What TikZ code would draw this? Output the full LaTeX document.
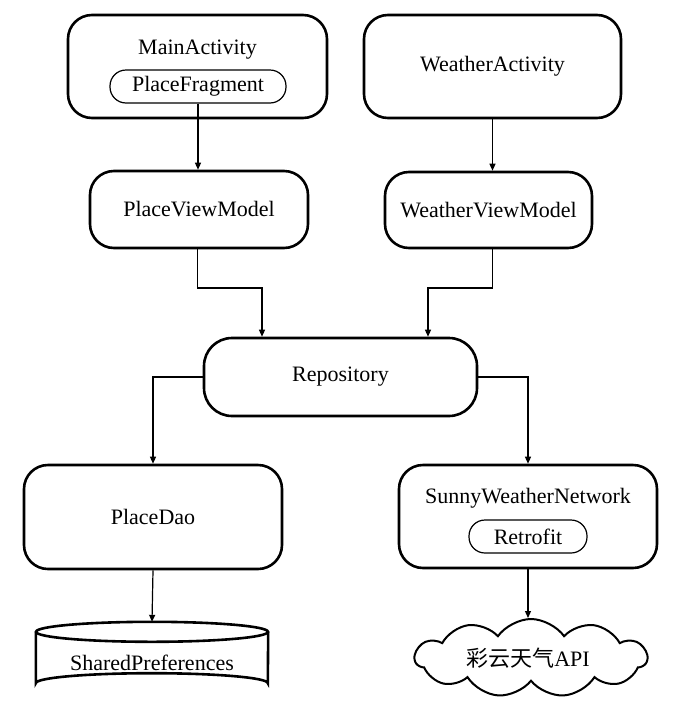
\documentclass[tikz,border=0pt]{standalone}
\usepackage{fontspec}
\setmainfont{Liberation Serif}
\newfontfamily\cjk{Noto Sans CJK SC}
\usetikzlibrary{arrows.meta,shapes.symbols,calc}
\begin{document}
\begin{tikzpicture}[x=1pt,y=-1pt,
  font=\fontsize{22}{26}\selectfont,
  obox/.style={draw, line width=2.6pt, rounded corners=24pt, inner sep=0pt},
  pill/.style={draw, line width=1.2pt, rounded corners=16pt, inner sep=0pt, minimum height=33pt},
  txt/.style={inner sep=0pt},
  conn/.style={line width=1.2pt, -{Triangle[length=7pt,width=6pt]}},
  ghost/.style={inner sep=0pt}
]
\useasboundingbox (0,0) rectangle (686,710);

% top row
\node[obox, minimum width=259pt, minimum height=103pt] (ma) at (197.5,66.5) {};
\node[txt] (matext) at (197.5,50) {MainActivity};
\node[pill, minimum width=176pt] (pf) at (198,86.5) {PlaceFragment};

\node[obox, minimum width=257pt, minimum height=103pt] (wa) at (492.5,66.5) {WeatherActivity};

% view models
\node[obox, minimum width=218pt, minimum height=77pt] (pvm) at (199,209.5) {PlaceViewModel};
\node[obox, minimum width=207pt, minimum height=76pt] (wvm) at (488.5,210) {WeatherViewModel};

% repository
\node[obox, minimum width=273pt, minimum height=78pt, rounded corners=28pt] (repo) at (340.5,377) {Repository};

% data layer
\node[obox, minimum width=258pt, minimum height=104pt] (pd) at (153,517) {PlaceDao};
\node[obox, minimum width=258pt, minimum height=103pt] (swn) at (528,516.5) {};
\node[txt] (swntext) at (528,498) {SunnyWeatherNetwork};
\node[pill, minimum width=118pt] (rf) at (528,536.5) {Retrofit};

% storage: cylinder
\node[ghost, minimum width=232pt, minimum height=71pt] (sp) at (152,657.5) {};
\draw[line width=2.6pt]
  ($(sp.north)+(0,10)$) ellipse [x radius=116pt, y radius=10pt];
\draw[line width=2.6pt]
  ($(sp.north west)+(0,10)$) -- ($(sp.south west)+(0,-10)$)
  arc[start angle=180, end angle=0, x radius=116pt, y radius=10pt]
  -- ($(sp.north east)+(0,10)$);
\node[txt] (sptext) at (152,663) {SharedPreferences};

% cloud
\node[cloud, draw, line width=2pt, cloud puffs=11, cloud puff arc=110, aspect=3,
      minimum width=232pt, minimum height=78pt, inner sep=0pt] (api) at (531,658) {};
\node[txt] (apitext) at (528,658) {{\cjk 彩云天气}API};

% connectors
\draw[conn] (pf.south) -- (pf.south |- pvm.north);
\draw[conn] (wa.south) -- (wa.south |- wvm.north);
\coordinate (e1) at (262,288);
\coordinate (e2) at (428,288);
\draw[conn] (pvm.south -| matext) |- (e1) -- (e1 |- repo.north);
\draw[conn] (wvm.south -| wa) |- (e2) -- (e2 |- repo.north);
\draw[conn] (repo.west) -| (pd.north);
\draw[conn] (repo.east) -| (swn.north);
\draw[conn] (pd.south) -- (sp.north);
\draw[conn] (swn.south) -- (swn.south |- api.north);
\end{tikzpicture}
\end{document}
